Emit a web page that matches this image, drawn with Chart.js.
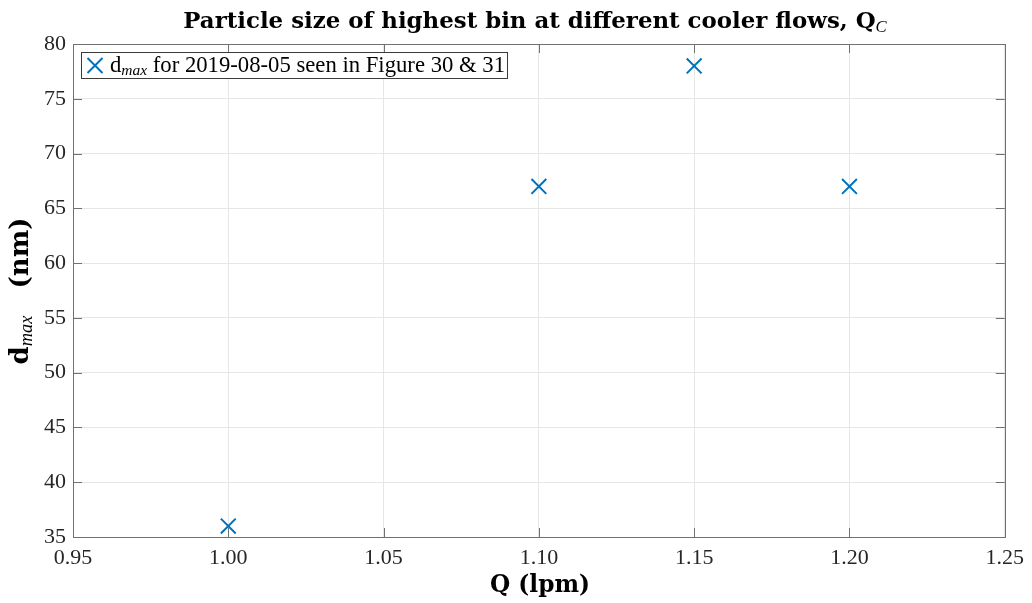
<!DOCTYPE html>
<html>
<head>
<meta charset="utf-8">
<script src="https://cdn.jsdelivr.net/npm/chart.js@4.4.1/dist/chart.umd.min.js"></script>
<style>
html,body{margin:0;padding:0;background:#fff;}
#wrap{position:relative;width:1032px;height:603px;}
</style>
</head>
<body>
<div id="wrap"><canvas id="c" width="1032" height="603"></canvas></div>
<script>
// ---- data ----
const flowQ = [1.00, 1.10, 1.15, 1.20];
const dMaxNm = [36, 67, 78, 67];
const xTickValues = [0.95, 1.00, 1.05, 1.10, 1.15, 1.20, 1.25];
const yTickValues = [35, 40, 45, 50, 55, 60, 65, 70, 75, 80];
const seriesLabel = ['d', 'max', ' for 2019-08-05 seen in Figure 30 & 31'];
const titleParts = ['Particle size of highest bin at different cooler flows, Q', 'C'];
const xTitle = 'Q (lpm)';
const yTitleParts = ['d', 'max', '   (nm)'];

const BLUE = '#0072BD';
const SERIF = '"Liberation Serif", "DejaVu Serif", serif';
const BSERIF = '"DejaVu Serif", "Liberation Serif", serif';

function fontStr(r, k) { return (r.style || '') + ' ' + (r.size * k).toFixed(2) + 'px ' + r.fam; }

// runs: [{t, style, size, fam, dy}]; scaled so total width == target
function drawRuns(ctx, runs, x, y, align, target) {
  let w = 0;
  runs.forEach(r => { ctx.font = fontStr(r, 1); w += ctx.measureText(r.t).width; });
  const k = target ? target / w : 1;
  let tot = 0;
  runs.forEach(r => { ctx.font = fontStr(r, k); r.w = ctx.measureText(r.t).width; tot += r.w; });
  let cx = align === 'center' ? x - tot / 2 : x;
  ctx.textBaseline = 'alphabetic';
  ctx.textAlign = 'left';
  runs.forEach(r => { ctx.font = fontStr(r, k); ctx.fillText(r.t, cx, y + (r.dy || 0)); cx += r.w; });
}

const decor = {
  id: 'decor',
  afterDraw(chart) {
    const ctx = chart.ctx;
    const a = chart.chartArea;
    const xs = chart.scales.x, ys = chart.scales.y;
    ctx.save();
    // box
    ctx.strokeStyle = '#707070';
    ctx.lineWidth = 1;
    ctx.strokeRect(Math.round(a.left) + 0.5, Math.round(a.top) + 0.5, Math.round(a.right - a.left), Math.round(a.bottom - a.top));
    // inward ticks
    ctx.beginPath();
    const tl = 9;
    xTickValues.forEach(v => {
      const px = Math.round(xs.getPixelForValue(v)) + 0.5;
      ctx.moveTo(px, a.bottom); ctx.lineTo(px, a.bottom - tl);
      ctx.moveTo(px, a.top); ctx.lineTo(px, a.top + tl);
    });
    yTickValues.forEach(v => {
      const py = Math.round(ys.getPixelForValue(v)) + 0.5;
      ctx.moveTo(a.left, py); ctx.lineTo(a.left + tl, py);
      ctx.moveTo(a.right, py); ctx.lineTo(a.right - tl, py);
    });
    ctx.stroke();

    ctx.fillStyle = '#000';
    // title
    drawRuns(ctx, [
      {t: titleParts[0], style: 'bold', size: 22, fam: BSERIF},
      {t: titleParts[1], style: 'italic', size: 16, fam: SERIF, dy: 4}
    ], 535, 28, 'center', 704);

    // x title
    drawRuns(ctx, [{t: xTitle, style: 'bold', size: 24, fam: BSERIF}], 540, 592, 'center', 100);

    // y title rotated
    ctx.save();
    ctx.translate(28, 291);
    ctx.rotate(-Math.PI / 2);
    drawRuns(ctx, [
      {t: yTitleParts[0], style: 'bold', size: 24, fam: BSERIF},
      {t: yTitleParts[1], style: 'italic', size: 17, fam: SERIF, dy: 4},
      {t: yTitleParts[2], style: 'bold', size: 24, fam: BSERIF}
    ], 0, 0, 'center', 147);
    ctx.restore();

    // legend
    const lx = 81, ly = 52, lw = 426, lh = 26;
    ctx.fillStyle = '#fff';
    ctx.fillRect(lx, ly, lw, lh);
    ctx.strokeStyle = '#3a3a3a';
    ctx.lineWidth = 1;
    ctx.strokeRect(lx + 0.5, ly + 0.5, lw, lh);
    // marker
    ctx.strokeStyle = BLUE;
    ctx.lineWidth = 2;
    const mx = 95, my = ly + 13.5, mr = 7.5;
    ctx.beginPath();
    ctx.moveTo(mx - mr, my - mr); ctx.lineTo(mx + mr, my + mr);
    ctx.moveTo(mx - mr, my + mr); ctx.lineTo(mx + mr, my - mr);
    ctx.stroke();
    ctx.fillStyle = '#000';
    drawRuns(ctx, [
      {t: seriesLabel[0], style: '', size: 22, fam: SERIF},
      {t: seriesLabel[1], style: 'italic', size: 15, fam: SERIF, dy: 3},
      {t: seriesLabel[2], style: '', size: 22, fam: SERIF}
    ], 110, ly + 20, 'left', 395);
    ctx.restore();
  }
};

new Chart(document.getElementById('c'), {
  type: 'scatter',
  data: {
    datasets: [{
      label: seriesLabel.join(''),
      data: flowQ.map((q, i) => ({x: q, y: dMaxNm[i]})),
      pointStyle: 'crossRot',
      pointRadius: 10.5,
      pointHoverRadius: 10.5,
      borderColor: BLUE,
      backgroundColor: BLUE,
      pointBorderWidth: 2
    }]
  },
  options: {
    responsive: false,
    animation: false,
    devicePixelRatio: 1,
    layout: {padding: {left: 0, right: 25, top: 44, bottom: 0}},
    plugins: {legend: {display: false}, title: {display: false}, tooltip: {enabled: false}},
    scales: {
      x: {
        type: 'linear', min: 0.95, max: 1.25,
        afterBuildTicks: s => { s.ticks = xTickValues.map(v => ({value: v})); },
        afterFit: s => { s.height = 66; },
        grid: {color: '#e6e6e6', drawTicks: false},
        border: {display: false},
        ticks: {color: '#262626', padding: 8, font: {family: SERIF, size: 22}, callback: v => Number(v).toFixed(2), maxRotation: 0}
      },
      y: {
        type: 'linear', min: 35, max: 80,
        afterBuildTicks: s => { s.ticks = yTickValues.map(v => ({value: v})); },
        afterFit: s => { s.width = 73; },
        grid: {color: '#e6e6e6', drawTicks: false},
        border: {display: false},
        ticks: {color: '#262626', padding: 7, font: {family: SERIF, size: 22}, callback: v => String(v)}
      }
    }
  },
  plugins: [decor]
});
</script>
</body>
</html>
